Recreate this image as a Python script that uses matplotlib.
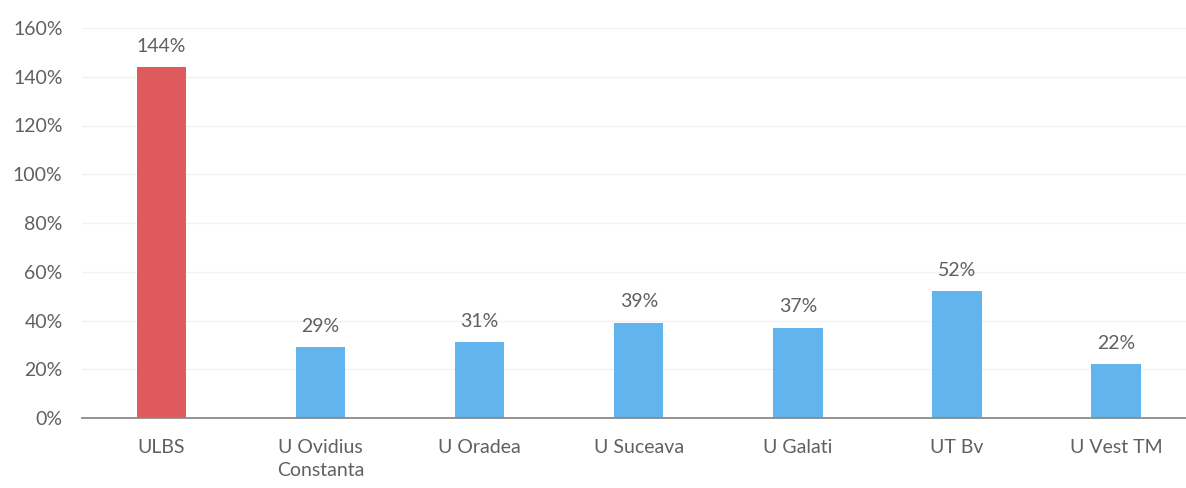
import matplotlib.pyplot as plt
from matplotlib.ticker import PercentFormatter

# data
universities = ['ULBS', 'U Ovidius\nConstanta', 'U Oradea', 'U Suceava',
                'U Galati', 'UT Bv', 'U Vest TM']
values = [144, 29, 31, 39, 37, 52, 22]
y_ticks = [0, 20, 40, 60, 80, 100, 120, 140, 160]

red = '#DF5A5D'
blue = '#62B4EE'
text_col = '#5f6062'

plt.rcParams['font.family'] = ['Lato', 'DejaVu Sans']

fig = plt.figure(figsize=(11.86, 4.88), dpi=100)
ax = fig.add_axes([82 / 1186, (488 - 418) / 488, (1186 - 82) / 1186, (418 - 28) / 488])

x = range(len(values))
colors = [red] + [blue] * (len(values) - 1)
bars = ax.bar(x, values, width=0.31, color=colors, zorder=3)

for b, v in zip(bars, values):
    ax.annotate(f'{v}%', (b.get_x() + b.get_width() / 2, v),
                xytext=(0, 9), textcoords='offset points',
                ha='center', va='bottom', fontsize=14, color=text_col)

ax.set_xlim(-0.5, 6.44)
ax.set_ylim(0, 160)
ax.set_yticks(y_ticks)
ax.yaxis.set_major_formatter(PercentFormatter(decimals=0))
ax.set_xticks(list(x))
ax.set_xticklabels(universities, fontsize=14, color=text_col, linespacing=1.45)
ax.tick_params(axis='y', labelsize=14, labelcolor=text_col, length=0, pad=14)
ax.tick_params(axis='x', length=0, pad=15)

ax.grid(axis='y', color='#f2f2f2', linewidth=1, zorder=0)
for s in ['top', 'right', 'left']:
    ax.spines[s].set_visible(False)
ax.spines['bottom'].set_color('#8a8a8a')
ax.spines['bottom'].set_linewidth(1.3)
ax.spines['bottom'].set_zorder(4)

fig.savefig('out.png', dpi=100)
